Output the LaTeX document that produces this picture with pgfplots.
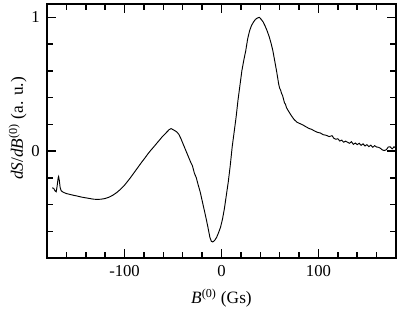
\documentclass[border=0pt]{standalone}
\usepackage{fontspec}
\setmainfont{Liberation Serif}
\usepackage{pgfplots}
\pgfplotsset{compat=1.18}
\begin{document}
\begin{tikzpicture}
\begin{axis}[
  name=ax,
  at={(0,0)},
  scale only axis,
  width=261.75pt, height=190.5pt,
  xmin=-180, xmax=180, ymin=-0.8, ymax=1.1,
  xtick={-100,0,100}, xticklabels={-100,0,100},
  ytick={0,1}, yticklabels={0,1},
  minor xtick={-160,-140,-120,-80,-60,-40,-20,20,40,60,80,120,140,160},
  minor ytick={-0.6,-0.4,-0.2,0.2,0.4,0.6,0.8},
  tick align=inside,
  major tick length=7pt, minor tick length=4.5pt,
  axis line style={line width=1.4pt},
  every tick/.style={black, line width=1.1pt},
  tick label style={font=\fontsize{12.5}{15}\selectfont},
  xticklabel style={yshift=-2pt},
  yticklabel style={xshift=-2pt},
  xlabel={\textit{B}\textsuperscript{(0)} (Gs)},
  ylabel={\textit{dS}/\textit{dB}\textsuperscript{(0)} (a. u.)},
  label style={font=\fontsize{13}{15}\selectfont},
  xlabel style={at={(axis description cs:0.5,-0.1785)}, anchor=base},
  ylabel style={at={(axis description cs:-0.0688,0.51)}, anchor=base},
]
\addplot[black, line width=0.7pt] coordinates {
(-174.5,-0.275) (-173,-0.28) (-171.5,-0.30) (-170.5,-0.305) (-169.5,-0.26) (-168.5,-0.20) (-168,-0.19) (-167.3,-0.22) (-166.5,-0.27) (-165.5,-0.295) (-164,-0.305) (-162,-0.312) (-160,-0.318) (-156,-0.325) (-152,-0.332) (-148,-0.338) (-144,-0.345) (-140,-0.350) (-136,-0.355) (-132,-0.360) (-128,-0.362) (-124,-0.360) (-120,-0.355) (-116,-0.345) (-112,-0.330) (-108,-0.310) (-104,-0.285) (-100,-0.255) (-97,-0.228) (-94,-0.200) (-91,-0.170) (-88,-0.140) (-85,-0.110) (-82,-0.080) (-79,-0.052) (-76,-0.022) (-73,0.005) (-70,0.030) (-67,0.056) (-64,0.082) (-61,0.108) (-58,0.130) (-56,0.145) (-54,0.160) (-52,0.168) (-50,0.160) (-48,0.152) (-46,0.142) (-44,0.125) (-42,0.095) (-40,0.060) (-38,0.025) (-36,-0.010) (-34,-0.045) (-32,-0.080) (-30,-0.110) (-28,-0.165) (-26,-0.200) (-24,-0.255) (-22,-0.305) (-20,-0.370) (-18,-0.435) (-16,-0.500) (-14,-0.570) (-12,-0.645) (-10.5,-0.675) (-9,-0.680) (-7,-0.668) (-5,-0.645) (-3,-0.610) (-1,-0.570) (0,-0.540) (1,-0.510) (3,-0.430) (5,-0.330) (7,-0.230) (9,-0.110) (11,0.030) (13,0.140) (15,0.250) (17,0.380) (19,0.490) (21,0.600) (23,0.680) (25,0.750) (27,0.840) (29,0.900) (31,0.940) (33,0.965) (35,0.985) (37,0.995) (39,1.000) (41,0.985) (43,0.965) (45,0.935) (47,0.900) (49,0.860) (51,0.810) (53,0.750) (55,0.670) (57,0.590) (59,0.500) (60,0.470) (61,0.455) (62,0.430) (63,0.415) (65,0.360) (66,0.350) (67,0.325) (69,0.300) (72,0.265) (75,0.235) (78,0.215) (81,0.205) (84,0.195) (87,0.182) (90,0.170) (93,0.162) (96,0.150) (99,0.140) (102,0.135) (105,0.122) (108,0.118) (111,0.108) (114,0.115) (116,0.095) (118,0.088) (120,0.092) (122,0.075) (124,0.082) (126,0.066) (128,0.074) (130,0.066) (132,0.058) (134,0.070) (136,0.050) (138,0.060) (140,0.048) (142,0.058) (144,0.043) (146,0.054) (148,0.038) (150,0.048) (152,0.033) (154,0.044) (156,0.028) (158,0.040) (160,0.030) (162,0.028) (164,0.020) (166,0.008) (168,0.004) (170,0.010) (172,0.030) (174,0.032) (176,0.016) (178,0.032) (180,0.022)
};
\end{axis}
\pgfresetboundingbox
\path ([shift={(-35.25pt,-40.5pt)}]ax.south west) rectangle ([shift={(2.25pt,3pt)}]ax.north east);
\end{tikzpicture}
\end{document}
